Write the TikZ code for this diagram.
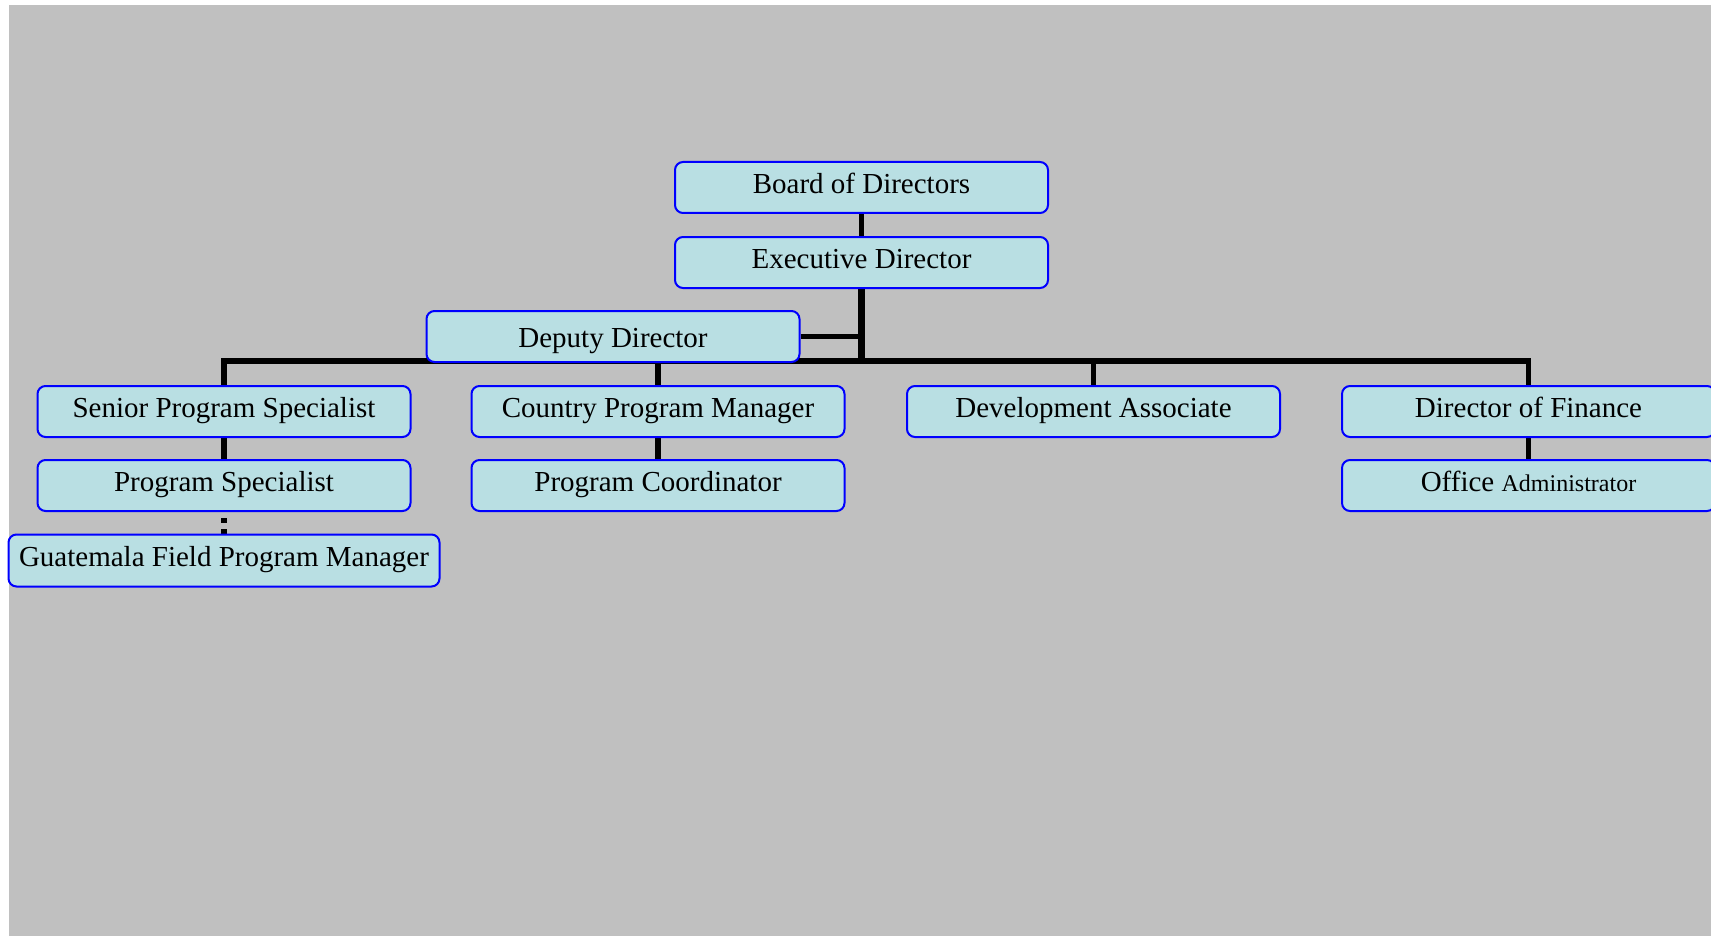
\documentclass[tikz,border=0pt]{standalone}
\usepackage{fontspec}
\setmainfont{Liberation Serif}
\usepackage{tikz}
\definecolor{postfill}{RGB}{185,223,227}
\definecolor{sheetgray}{RGB}{192,192,192}
\pgfdeclarelayer{sheet}
\pgfdeclarelayer{wires}
\pgfsetlayers{sheet,wires,main}
\tikzset{
  post/.style={draw=blue,line width=1pt,fill=postfill,rounded corners=4pt,
    minimum width=186.5pt,minimum height=25.5pt,inner xsep=0pt,inner ysep=0pt,
    text height=10.9pt,text depth=5.2pt,font=\fontsize{14.5}{17}\selectfont},
  wire/.style={line width=2.8pt},
}

\begin{document}
\begin{tikzpicture}[x=0.5pt,y=-0.5pt]
	\useasboundingbox (0,0) rectangle (1711,936);
	\begin{pgfonlayer}{sheet}
		\fill[sheetgray] (9,5.5) rectangle (1711,936);
	\end{pgfonlayer}
	\node[post] (board) at (861.5,187.5) {Board of Directors};
	\node[post] (exec) at (861.5,262.5) {Executive Director};
	\node[post,text height=11pt,text depth=0pt] (deputy) at (613,336.5) {Deputy Director};
	\node[post] (senior) at (224,411.5) {Senior Program Specialist};
	\node[post] (country) at (658,411.5) {Country Program Manager};
	\node[post] (devel) at (1093.5,411.5) {Development Associate};
	\node[post] (finance) at (1528.5,411.5) {Director of Finance};
	\node[post] (progspec) at (224,485.5) {Program Specialist};
	\node[post] (progcoord) at (658,485.5) {Program Coordinator};
	\node[post] (office) at (1528.5,485.5) {Office {\fontsize{12}{14}\selectfont Administrator}};
	\node[post,minimum width=215.5pt,minimum height=26pt,text depth=4.8pt] (field) at (224,560.5) {Guatemala Field Program Manager};
	\coordinate (hub) at (861.5,361);
	\begin{pgfonlayer}{wires}
		\draw[wire] (board) -- (exec);
		\draw[wire,line width=3.2pt] (exec) -- (hub);
		\draw[wire,line width=2.4pt] (deputy.east) -- (deputy.east -| hub);
		\draw[wire] (senior.north) |- (hub) -| (finance.north);
		\draw[wire] (country.north) -- (country.north |- hub);
		\draw[wire] (devel.north) -- (devel.north |- hub);
		\draw[wire] (senior) -- (progspec);
		\draw[wire] (country) -- (progcoord);
		\draw[wire] (finance) -- (office);
		\draw[wire,dash pattern=on 2.5pt off 3pt,dash phase=2.5pt] (progspec) -- (field);
	\end{pgfonlayer}
\end{tikzpicture}
\end{document}
